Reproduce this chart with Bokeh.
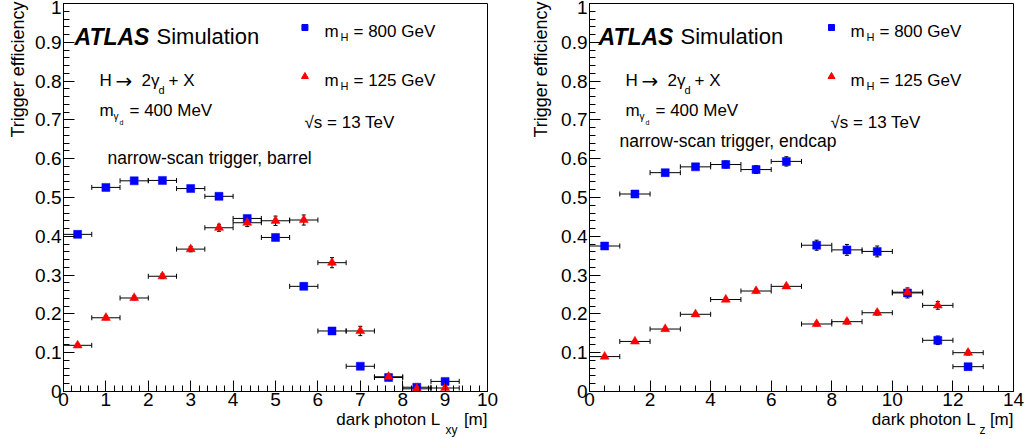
import numpy as np
from bokeh.plotting import figure
from bokeh.layouts import row
from bokeh.models import (Range1d, SingleIntervalTicker, CustomJSTickFormatter, Label, Title,
                          Whisker, TeeHead, ColumnDataSource)
from bokeh.embed import file_html
from bokeh.resources import INLINE

# ---------------- data ----------------
# Left panel: barrel, dark photon Lxy [m]
lxy_centers = [0.333, 1.0, 1.667, 2.333, 3.0, 3.667, 4.333, 5.0, 5.667, 6.333, 7.0, 7.667, 8.333, 9.0]
lxy_halfwidth = 0.333
barrel_mh800 = [0.405, 0.526, 0.543, 0.544, 0.523, 0.503, 0.446, 0.397, 0.271, 0.156, 0.065, 0.036, 0.011, 0.026]
barrel_mh800_err = [0.004, 0.004, 0.004, 0.004, 0.005, 0.006, 0.007, 0.008, 0.008, 0.007, 0.004, 0.003, 0.002, 0.003]
barrel_mh125 = [0.119, 0.190, 0.241, 0.297, 0.367, 0.422, 0.435, 0.440, 0.442, 0.332, 0.156, 0.038, 0.007, 0.009]
barrel_mh125_err = [0.004, 0.005, 0.005, 0.006, 0.007, 0.009, 0.010, 0.012, 0.013, 0.013, 0.012, 0.006, 0.002, 0.003]

# Right panel: endcap, dark photon Lz [m]
lz_centers = [0.5, 1.5, 2.5, 3.5, 4.5, 5.5, 6.5, 7.5, 8.5, 9.5, 10.5, 11.5, 12.5]
lz_halfwidth = 0.5
endcap_mh800 = [0.375, 0.509, 0.564, 0.579, 0.585, 0.572, 0.593, 0.377, 0.365, 0.361, 0.254, 0.132, 0.064]
endcap_mh800_err = [0.004, 0.005, 0.006, 0.007, 0.009, 0.010, 0.012, 0.013, 0.014, 0.014, 0.013, 0.011, 0.007]
endcap_mh125 = [0.090, 0.129, 0.161, 0.199, 0.237, 0.259, 0.271, 0.174, 0.180, 0.203, 0.256, 0.222, 0.100]
endcap_mh125_err = [0.002, 0.003, 0.003, 0.004, 0.004, 0.005, 0.005, 0.005, 0.006, 0.006, 0.007, 0.010, 0.006]

y_tick_step = 0.1
legend_labels = ["800 GeV", "125 GeV"]
y_title = "Trigger efficiency"

FONT = "Liberation Sans"
BLUE = "#0000ff"
RED = "#ff0000"
H = 439
FRAME_TOP = 3
FRAME_BOTTOM = 391
NB = "\u00a0"


def add_label(p, fl, x, y, text, size, style="normal", align="left", font=FONT):
    """x, y: pixel position (within the panel) of the text anchor on its baseline; fl: x of frame left."""
    p.add_layout(Label(x=x - fl, y=FRAME_BOTTOM - y, x_units="screen", y_units="screen",
                       text=text, text_font=font, text_font_size=f"{size}px",
                       text_font_style=style, text_align=align, text_baseline="alphabetic",
                       text_color="black"))


def build(width, border_left, plot_w, xs, hw, b, be, r, re_, xmax, xstep, xminor, ytitle_standoff):
    p = figure(width=width, height=H, output_backend="svg", toolbar_location=None,
               x_range=Range1d(0, xmax), y_range=Range1d(0, 1),
               min_border_left=border_left, min_border_right=width - border_left - plot_w,
               min_border_top=FRAME_TOP, min_border_bottom=H - FRAME_BOTTOM)
    p.xgrid.visible = False
    p.ygrid.visible = False
    p.outline_line_color = "black"
    p.outline_line_width = 1
    p.background_fill_color = "white"
    p.border_fill_color = "white"

    fmt = CustomJSTickFormatter(code="return (Math.round(tick*10)/10).toString();")
    p.xaxis.ticker = SingleIntervalTicker(interval=xstep, num_minor_ticks=xminor)
    p.yaxis.ticker = SingleIntervalTicker(interval=y_tick_step, num_minor_ticks=5)
    for ax in (p.xaxis[0], p.yaxis[0]):
        ax.formatter = fmt
        ax.major_tick_in = 11
        ax.major_tick_out = 0
        ax.minor_tick_in = 6
        ax.minor_tick_out = 0
        ax.axis_line_color = "black"
        ax.major_tick_line_color = "black"
        ax.minor_tick_line_color = "black"
        ax.major_label_text_font = FONT
        ax.major_label_text_font_size = "19px"
        ax.major_label_text_color = "black"
    p.xaxis.major_label_standoff = 1
    p.yaxis.major_label_standoff = 2

    xs = np.array(xs)
    for vals, errs, color, marker in ((b, be, BLUE, "square"), (r, re_, RED, "triangle")):
        vals = np.array(vals)
        errs = np.array(errs)
        src = ColumnDataSource(dict(x=xs, y=vals, xlo=xs - hw, xhi=xs + hw,
                                    ylo=vals - errs, yhi=vals + errs))
        wx = Whisker(source=src, base="y", lower="xlo", upper="xhi", dimension="width",
                     line_color="black", line_width=1, level="underlay",
                     lower_head=TeeHead(size=5, line_color="black", line_width=1),
                     upper_head=TeeHead(size=5, line_color="black", line_width=1))
        wy = Whisker(source=src, base="x", lower="ylo", upper="yhi", dimension="height",
                     line_color="black", line_width=1, level="underlay",
                     lower_head=TeeHead(size=4, line_color="black", line_width=1),
                     upper_head=TeeHead(size=4, line_color="black", line_width=1))
        p.add_layout(wx)
        p.add_layout(wy)
        p.scatter("x", "y", source=src, marker=marker, size=8 if marker == "square" else 9,
                  fill_color=color, line_color=color, line_width=0.5)

    # axis titles as Titles in the side panels (ROOT style: aligned to the end of the axis)
    p.add_layout(Title(text=y_title, align="right", offset=-2, standoff=ytitle_standoff,
                       text_font=FONT, text_font_size="18px", text_font_style="normal",
                       text_color="black"), "left")
    return p


def add_xtitle(p, main, sub, sub_offset):
    p.add_layout(Title(text=main, align="right", offset=0, standoff=-2,
                       text_font=FONT, text_font_size="17px", text_font_style="normal",
                       text_color="black"), "below")
    p.add_layout(Title(text=sub, align="right", offset=sub_offset, standoff=-18,
                       text_font=FONT, text_font_size="12px", text_font_style="normal",
                       text_color="black"), "below")


def decorate(p, fl, atlas_x, note, note_x, note_y):
    # ATLAS Simulation
    add_label(p, fl, atlas_x, 36, "ATLAS", 23, style="bold italic")
    add_label(p, fl, atlas_x + 82, 36, "Simulation", 22)
    # H -> 2 gamma_d + X
    hx = fl + 36
    add_label(p, fl, hx, 80, "H", 17)
    add_label(p, fl, hx + 16, 80, "\u2192", 20, font="DejaVu Sans")
    add_label(p, fl, hx + 42, 80, "2\u03b3", 17)
    add_label(p, fl, hx + 59, 89, "d", 11)
    add_label(p, fl, hx + 69, 80, "+ X", 17)
    # m_gamma_d = 400 MeV
    add_label(p, fl, hx, 110, "m", 17)
    add_label(p, fl, hx + 14, 116, "\u03b3", 10)
    add_label(p, fl, hx + 20, 122, "d", 7)
    add_label(p, fl, hx + 30, 110, "= 400 MeV", 17)
    # note
    add_label(p, fl, note_x, note_y, note, 17.5)
    # legend
    lx = fl + 242
    for lab, color, marker, yy in ((legend_labels[0], BLUE, "square", 27),
                                   (legend_labels[1], RED, "triangle", 76)):
        xr = p.x_range
        frame_w = p.width - p.min_border_left - p.min_border_right
        xd = xr.start + (lx - fl) / frame_w * (xr.end - xr.start)
        yd = (FRAME_BOTTOM - yy) / (FRAME_BOTTOM - FRAME_TOP)
        p.scatter([xd], [yd], marker=marker, size=6 if marker == "square" else 7,
                  fill_color=color, line_color=color)
        add_label(p, fl, lx + 19, yy + 4, "m", 17)
        add_label(p, fl, lx + 35, yy + 9, "H", 11)
        add_label(p, fl, lx + 48, yy + 4, "= " + lab, 17)
    add_label(p, fl, lx - 1, 122, "\u221as = 13 TeV", 17)


# Left panel: frame from x = 62 to 487
p1 = build(515, 62, 425, lxy_centers, lxy_halfwidth, barrel_mh800, barrel_mh800_err,
           barrel_mh125, barrel_mh125_err, 10, 1, 5, 10)
decorate(p1, 62, 73, "narrow-scan trigger, barrel", 106, 157)
add_xtitle(p1, "dark photon L" + NB * 5 + "[m]", "xy", 30)

# Right panel (starts at page x = 515): frame from x = 74 to 498 within the panel
p2 = build(516, 74, 424, lz_centers, lz_halfwidth, endcap_mh800, endcap_mh800_err,
           endcap_mh125, endcap_mh125_err, 14, 2, 4, 16)
decorate(p2, 74, 83, "narrow-scan trigger, endcap", 104, 140)
add_xtitle(p2, "dark photon L" + NB * 3 + "[m]", "z", 28)

layout = row(p1, p2, spacing=0)
open("out.html", "w").write(file_html(layout, INLINE))
